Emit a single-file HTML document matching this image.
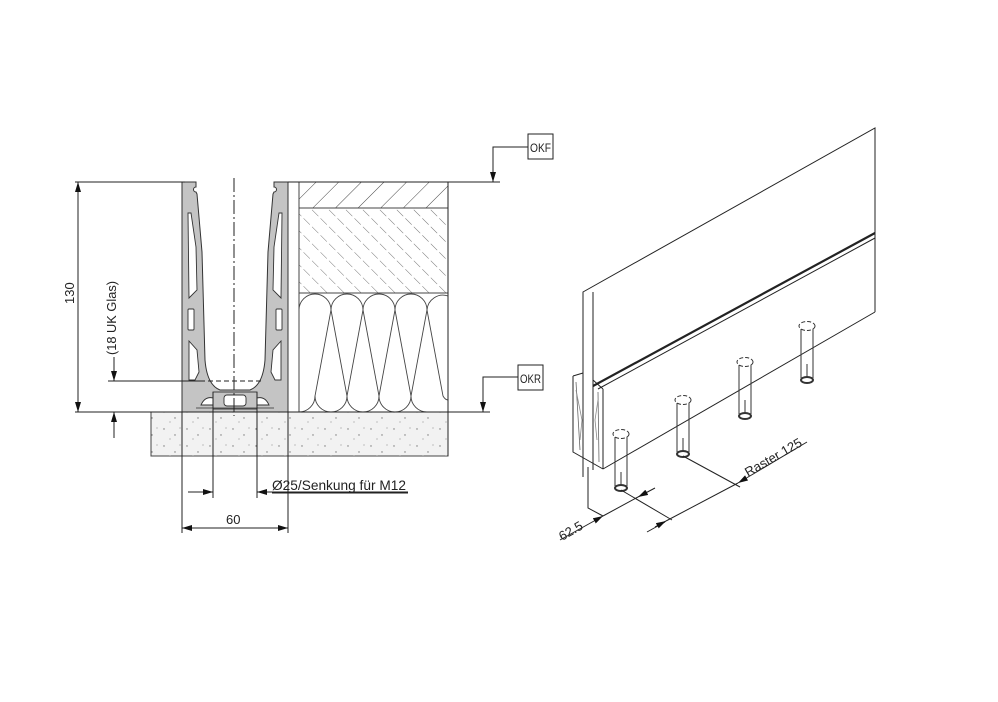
<!DOCTYPE html>
<html><head><meta charset="utf-8"><style>
html,body{margin:0;padding:0;background:#fff;}
svg{display:block;}
text{font-family:"Liberation Sans Narrow","Liberation Sans",sans-serif;fill:#222;}
</style></head><body>
<svg width="998" height="702" viewBox="0 0 998 702" xmlns="http://www.w3.org/2000/svg">
<defs>
<pattern id="hatch" width="12" height="12" patternUnits="userSpaceOnUse" patternTransform="rotate(-45)">
<line x1="0" y1="0" x2="0" y2="12" stroke="#555" stroke-width="0.8" stroke-dasharray="6,3"/>
</pattern>
<pattern id="hatch2" width="16" height="16" patternUnits="userSpaceOnUse" patternTransform="rotate(45)">
<line x1="0" y1="0" x2="0" y2="16" stroke="#444" stroke-width="1"/>
</pattern>
<pattern id="dots" width="23" height="17" patternUnits="userSpaceOnUse">
<circle cx="3" cy="4" r="0.7" fill="#777"/><circle cx="14" cy="10" r="0.7" fill="#777"/><circle cx="9" cy="14" r="0.6" fill="#999"/><circle cx="19" cy="3" r="0.6" fill="#999"/>
</pattern>
<marker id="ar" markerWidth="10" markerHeight="6" refX="10" refY="3" orient="auto" markerUnits="userSpaceOnUse"><path d="M0,0 L10,3 L0,6 Z" fill="#111"/></marker>
<marker id="as" markerWidth="10" markerHeight="6" refX="0" refY="3" orient="auto" markerUnits="userSpaceOnUse"><path d="M10,0 L0,3 L10,6 Z" fill="#111"/></marker>
</defs>
<g stroke="#222" stroke-width="1" fill="none">
<rect x="151" y="412" width="297" height="44" fill="#f2f2f2" stroke="#444"/>
<rect x="151" y="412" width="297" height="44" fill="url(#dots)" stroke="none"/>
<rect x="299" y="182" width="149" height="26" fill="url(#hatch2)" stroke="#444"/>
<rect x="299" y="208" width="149" height="85" fill="url(#hatch)" stroke="#444"/>
<rect x="299" y="293" width="149" height="119" stroke="#444"/>
<g stroke="#444" stroke-width="0.9">
<path d="M299,310 A16,16 0 0 1 331,310 L315,396 A16,16 0 0 1 299,412"/>
<path d="M315,396 A16,16 0 0 0 331,412"/>
<path d="M331,310 A16,16 0 0 1 363,310 L347,396 A16,16 0 0 1 331,412 M331,310 L347,396 A16,16 0 0 0 363,412"/>
<path d="M363,310 A16,16 0 0 1 395,310 L379,396 A16,16 0 0 1 363,412 M363,310 L379,396 A16,16 0 0 0 395,412"/>
<path d="M395,310 A16,16 0 0 1 427,310 L411,396 A16,16 0 0 1 395,412 M395,310 L411,396 A16,16 0 0 0 427,412"/>
<path d="M427,310 A16,16 0 0 1 448,296 M427,310 L443,396 A8,16 0 0 0 448,400"/>
</g>
<line x1="448" y1="182" x2="448" y2="456"/>
<path d="M182,182 L196,182 L196,187 A2.5,2.5 0 0 0 196,192 L197,194 L202,252 L205,360 Q207,385 220,390 L250,390 Q263,385 265,360 L268,252 L273,194 L274,192 A2.5,2.5 0 0 0 274,187 L274,182 L288,182 L288,412 L182,412 Z" fill="#c4c4c4" stroke="#333"/>
<g fill="#fff" stroke="#333" stroke-width="0.9">
<path d="M188,213 L191,213 L196,247 L197,290 L189,298 Z"/>
<path d="M282,213 L279,213 L274,247 L273,290 L281,298 Z"/>
<rect x="188" y="309" width="6" height="21" rx="1"/>
<rect x="276" y="309" width="6" height="21" rx="1"/>
<path d="M189,341 L197,350 L199,372 L195,380 L189,380 Z"/>
<path d="M281,341 L273,350 L271,372 L275,380 L281,380 Z"/>
<path d="M201,405 Q205,396 213,398 L213,405 Z"/>
<path d="M269,405 Q265,396 257,398 L257,405 Z"/>
</g>
<rect x="213" y="392" width="44" height="17" fill="#c4c4c4" stroke="#333" stroke-width="0.9"/>
<rect x="224" y="395" width="22" height="11" rx="3" fill="#fff" stroke="#333" stroke-width="0.9"/>
<line x1="196" y1="408" x2="274" y2="408" stroke="#555"/>
<line x1="234" y1="178" x2="234" y2="416" stroke-dasharray="14,3,2,3"/>
<line x1="200" y1="381" x2="262" y2="381" stroke-dasharray="5,3"/>
<line x1="108" y1="381" x2="200" y2="381"/>
<line x1="75" y1="412" x2="490" y2="412"/>
<line x1="75" y1="182" x2="185" y2="182"/>
<line x1="288" y1="182" x2="500" y2="182"/>
<line x1="78" y1="182" x2="78" y2="412" marker-start="url(#as)" marker-end="url(#ar)"/>
<line x1="114" y1="357" x2="114" y2="381" marker-end="url(#ar)"/>
<line x1="114" y1="438" x2="114" y2="412" marker-end="url(#ar)"/>
<line x1="182" y1="412" x2="182" y2="533"/>
<line x1="288" y1="412" x2="288" y2="533"/>
<line x1="213" y1="392" x2="213" y2="498"/>
<line x1="257" y1="392" x2="257" y2="498"/>
<line x1="188" y1="492" x2="213" y2="492" marker-end="url(#ar)"/>
<line x1="408" y1="492" x2="257" y2="492" marker-end="url(#ar)"/>
<line x1="182" y1="528" x2="288" y2="528" marker-start="url(#as)" marker-end="url(#ar)"/>
<rect x="528" y="134" width="25" height="25"/>
<polyline points="528,147 493,147 493,182" marker-end="url(#ar)"/>
<rect x="518" y="365" width="25" height="25"/>
<polyline points="518,377 483,377 483,412" marker-end="url(#ar)"/>

<polyline points="583,477 583,292 875,128 875,312"/>
<line x1="593" y1="292" x2="593" y2="470"/>
<line x1="593" y1="386" x2="875" y2="233" stroke-width="2.2"/>
<line x1="598" y1="389" x2="875" y2="238" stroke-width="1"/>
<line x1="603" y1="389" x2="603" y2="469"/>
<line x1="603" y1="469" x2="875" y2="312"/>
<path d="M573,376 L583,373 M593,380 L603,389 M573,376 L573,452 L603,469" />
<path d="M576,382 L580,450 M598,392 L599,462" stroke="#666" stroke-width="0.8"/>
<path d="M576,390 L582,420 L580,440 M598,400 L595,420 L597,440" stroke="#888" stroke-width="0.8"/>
<g stroke="#333">
<g transform="translate(621,434)"><ellipse cx="0" cy="0" rx="8" ry="4.5" stroke-dasharray="4,2"/><line x1="-6" y1="3" x2="-6" y2="52"/><line x1="6" y1="3" x2="6" y2="52"/><ellipse cx="0" cy="54" rx="6" ry="3" stroke-width="2"/><line x1="0" y1="38" x2="0" y2="52"/></g>
<g transform="translate(683,400)"><ellipse cx="0" cy="0" rx="8" ry="4.5" stroke-dasharray="4,2"/><line x1="-6" y1="3" x2="-6" y2="52"/><line x1="6" y1="3" x2="6" y2="52"/><ellipse cx="0" cy="54" rx="6" ry="3" stroke-width="2"/><line x1="0" y1="38" x2="0" y2="52"/></g>
<g transform="translate(745,362)"><ellipse cx="0" cy="0" rx="8" ry="4.5" stroke-dasharray="4,2"/><line x1="-6" y1="3" x2="-6" y2="52"/><line x1="6" y1="3" x2="6" y2="52"/><ellipse cx="0" cy="54" rx="6" ry="3" stroke-width="2"/><line x1="0" y1="38" x2="0" y2="52"/></g>
<g transform="translate(807,326)"><ellipse cx="0" cy="0" rx="8" ry="4.5" stroke-dasharray="4,2"/><line x1="-6" y1="3" x2="-6" y2="52"/><line x1="6" y1="3" x2="6" y2="52"/><ellipse cx="0" cy="54" rx="6" ry="3" stroke-width="2"/><line x1="0" y1="38" x2="0" y2="52"/></g>
</g>
<polyline points="588,467 588,508 603,516"/>
<line x1="560" y1="540" x2="603" y2="516" marker-end="url(#ar)"/>
<line x1="655" y1="488" x2="638" y2="497" marker-end="url(#ar)"/>
<line x1="638" y1="497" x2="603" y2="516"/>
<line x1="621" y1="490" x2="672" y2="520"/>
<line x1="683" y1="456" x2="740" y2="487"/>
<line x1="647" y1="532" x2="665" y2="522" />
<line x1="655" y1="527" x2="666" y2="521" marker-end="url(#ar)"/>
<line x1="807" y1="442" x2="738" y2="483" marker-end="url(#ar)"/>
<line x1="738" y1="483" x2="666" y2="521"/>
</g>
<text x="0" y="0" font-size="13" transform="translate(74,304) rotate(-90)">130</text>
<text x="0" y="0" font-size="13" textLength="74" lengthAdjust="spacingAndGlyphs" transform="translate(116,355) rotate(-90)">(18 UK Glas)</text>
<text x="272" y="490" font-size="14" textLength="134" lengthAdjust="spacingAndGlyphs">Ø25/Senkung für M12</text>
<line x1="272" y1="493" x2="408" y2="493" stroke="#222"/>
<text x="226" y="524" font-size="13">60</text>
<text x="530" y="152" font-size="12" textLength="21" lengthAdjust="spacingAndGlyphs">OKF</text>
<text x="520" y="383" font-size="12" textLength="21" lengthAdjust="spacingAndGlyphs">OKR</text>
<text x="0" y="0" font-size="13" transform="translate(562,541) rotate(-30)">62.5</text>
<text x="0" y="0" font-size="13" transform="translate(748,477) rotate(-30)">Raster 125</text>
</svg>
</body></html>
